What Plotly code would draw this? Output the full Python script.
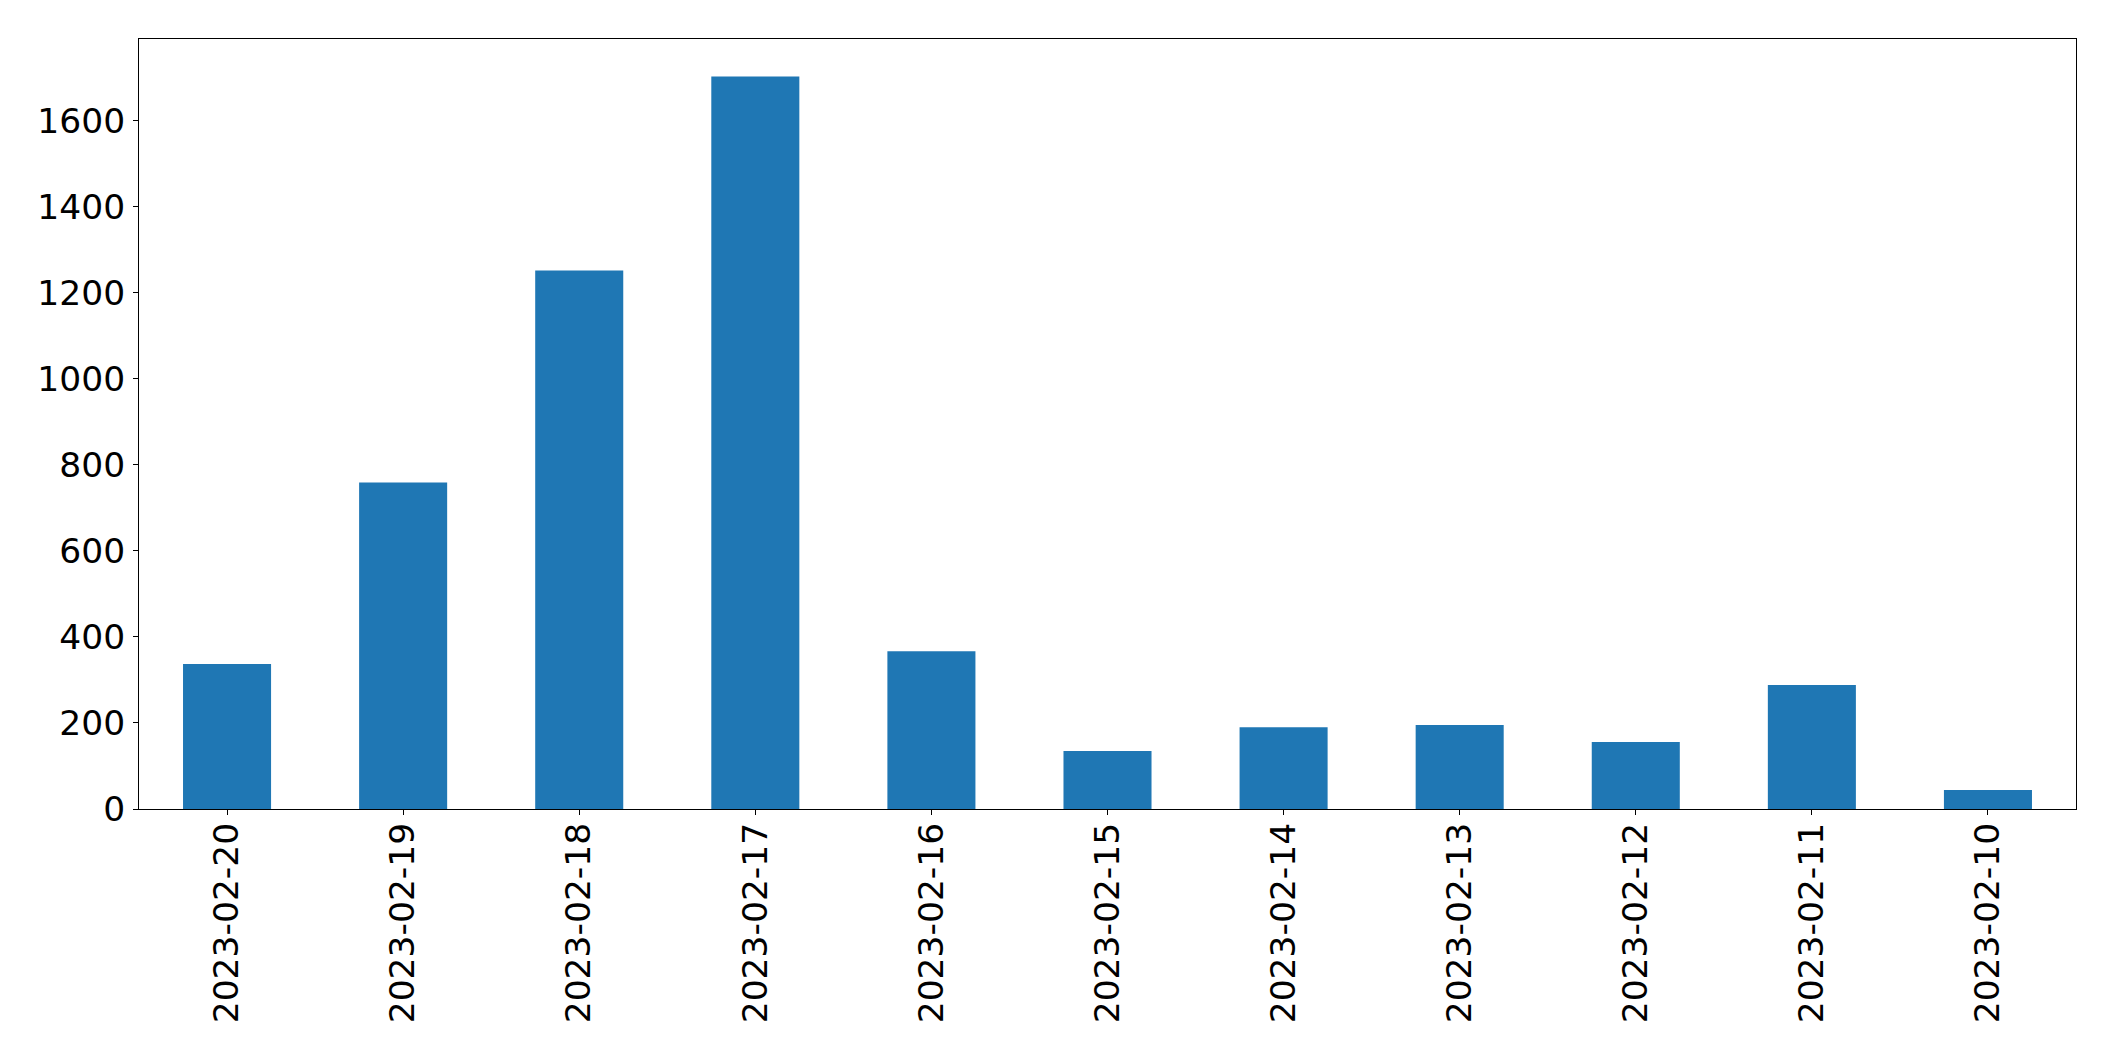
import plotly.graph_objects as go

dates = ["2023-02-20", "2023-02-19", "2023-02-18", "2023-02-17", "2023-02-16",
         "2023-02-15", "2023-02-14", "2023-02-13", "2023-02-12", "2023-02-11",
         "2023-02-10"]
counts = [337, 759, 1252, 1703, 367, 135, 190, 195, 156, 288, 44]
y_ticks = [0, 200, 400, 600, 800, 1000, 1200, 1400, 1600]

fig = go.Figure(go.Bar(x=dates, y=counts, width=0.5, marker_color="#1f77b4",
                       marker_line_width=0))

font = dict(family="DejaVu Sans", size=34.5, color="black")
fig.update_layout(
    width=2115, height=1061,
    margin=dict(l=131, r=47, t=31, b=260),
    plot_bgcolor="white", paper_bgcolor="white",
    showlegend=False, font=font,
)
fig.update_xaxes(type="category", range=[-0.5, 10.5], tickangle=-90,
                 showline=True, linecolor="black", linewidth=1, mirror=True,
                 ticks="outside", ticklen=5, tickcolor="black", showgrid=False,
                 tickfont=font, ticklabelstandoff=-6)
fig.update_yaxes(range=[0, 1790], tickvals=y_ticks,
                 showline=True, linecolor="black", linewidth=1, mirror=True,
                 ticks="outside", ticklen=5, tickcolor="black", showgrid=False,
                 zeroline=False, tickfont=font, ticklabelstandoff=1)

fig.write_html("out.html")
